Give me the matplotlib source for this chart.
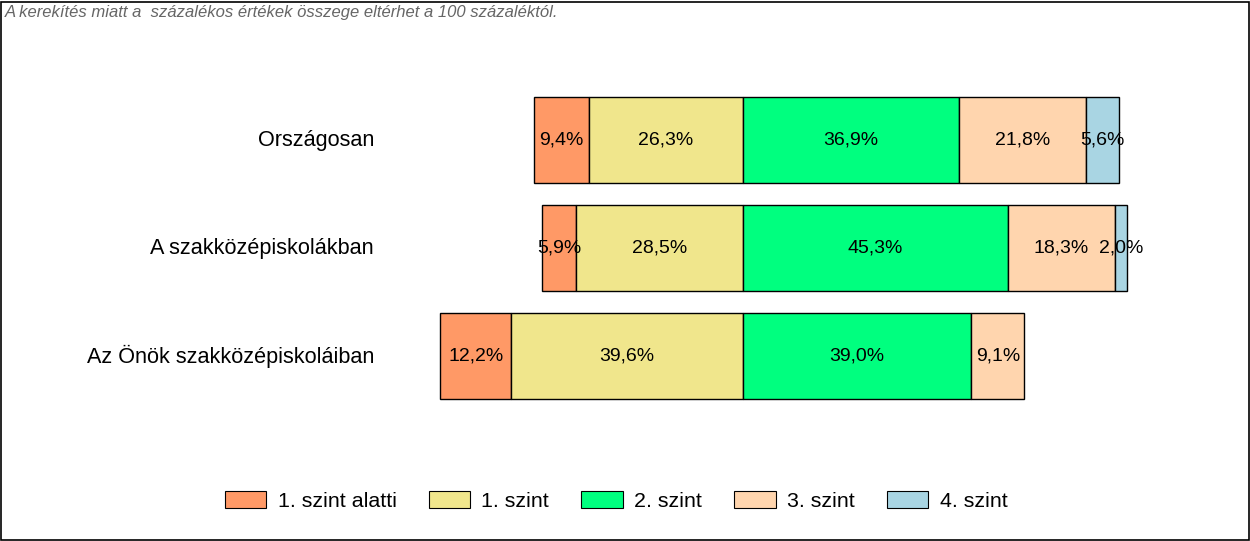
import matplotlib
matplotlib.use("Agg")
import matplotlib.pyplot as plt
from matplotlib.patches import Patch, Rectangle

plt.rcParams['font.family'] = ['Liberation Sans', 'DejaVu Sans']
val_size = 14

categories = ["Országosan", "A szakközépiskolákban", "Az Önök szakközépiskoláiban"]
levels = ["1. szint alatti", "1. szint", "2. szint", "3. szint", "4. szint"]
below1 = [9.4, 5.9, 12.2]
level1 = [26.3, 28.5, 39.6]
level2 = [36.9, 45.3, 39.0]
level3 = [21.8, 18.3, 9.1]
level4 = [5.6, 2.0, 0.0]
colors = ["#FF9966", "#F0E68C", "#00FF7F", "#FFD5AE", "#A9D5E3"]
note = "A kerekítés miatt a  százalékos értékek összege eltérhet a 100 százaléktól."

W, H = 1250, 541
fig = plt.figure(figsize=(W/100, H/100), dpi=100)
ax = fig.add_axes([0, 0, 1, 1])
pxpct = 5.85
cx = 743
ax.set_xlim((0 - cx)/pxpct, (W - cx)/pxpct)
y0, dy = 140, 108
ax.set_ylim((H - y0)/dy, (0 - y0)/dy)
ax.axis('off')

def fmt(v):
    return f"{v:.1f}%".replace('.', ',')

bh = 86/dy
for i, cat in enumerate(categories):
    left_vals = [below1[i], level1[i]]
    start = -(below1[i] + level1[i])
    for v, c in zip(left_vals, colors[:2]):
        ax.barh(i, v, left=start, height=bh, color=c, edgecolor='black', linewidth=1)
        ax.text(start + v/2, i, fmt(v), ha='center', va='center', fontsize=val_size)
        start += v
    start = 0
    for v, c in zip([level2[i], level3[i], level4[i]], colors[2:]):
        if v <= 0:
            continue
        ax.barh(i, v, left=start, height=bh, color=c, edgecolor='black', linewidth=1)
        ax.text(start + v/2, i, fmt(v), ha='center', va='center', fontsize=val_size)
        start += v
    ax.text((374 - cx)/pxpct, i, cat, ha='right', va='center', fontsize=15.6)

handles = [Patch(facecolor=c, edgecolor='black', linewidth=0.8, label=l) for c, l in zip(colors, levels)]
fig.legend(handles=handles, loc='center', bbox_to_anchor=(616/W, 1 - 501/H), ncol=5,
           frameon=False, fontsize=15.4, handlelength=1.95, handleheight=0.85,
           handletextpad=0.52, columnspacing=1.5, borderpad=0)

fig.text(5/W, 1 - 13/H, note, ha='left', va='center', fontsize=11.95, style='italic', color='#666666')
fig.patches.append(Rectangle((0.5/W, 1.5/H), (W - 2)/W, (H - 3)/H, transform=fig.transFigure,
                             fill=False, edgecolor='black', linewidth=1.2))

fig.savefig("out.png", dpi=100)
